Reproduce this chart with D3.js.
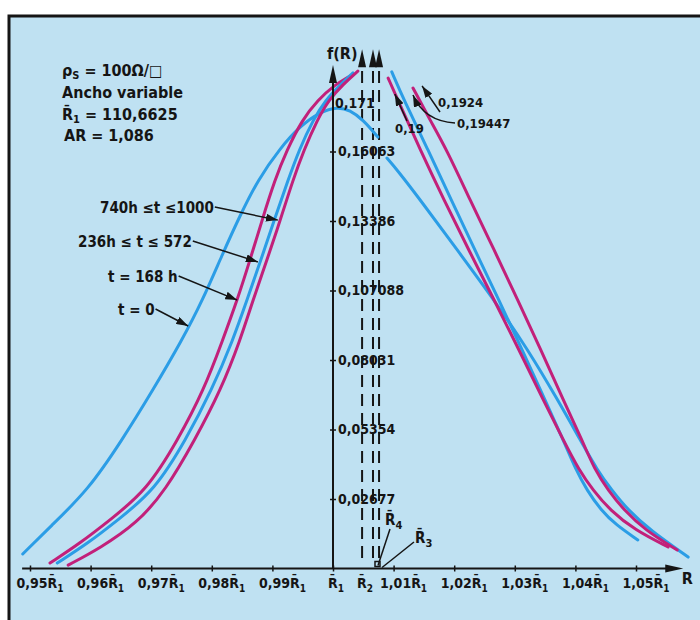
<!DOCTYPE html>
<html>
<head>
<meta charset="utf-8">
<script src="https://cdn.jsdelivr.net/npm/d3@7"></script>
<style>
body { margin: 0; background: #fff; }
svg text {
    font-family: "DejaVu Sans Condensed", "DejaVu Sans", sans-serif;
    font-stretch: condensed;
    font-weight: bold;
    fill: #151515;
}
</style>
</head>
<body>
<div id="container"><svg></svg></div>
<script>
let width = 700;
let height = 620;

let bg = '#bfe1f2';
let blue = '#2b9de6';
let magenta = '#c2207a';
let ink = '#151515';

// x ticks, in units of R1
let xTicks = [0.95, 0.96, 0.97, 0.98, 0.99, 1.00, 1.01, 1.02, 1.03, 1.04, 1.05];
let xTickCoef = ['0,95', '0,96', '0,97', '0,98', '0,99', '', '1,01', '1,02', '1,03', '1,04', '1,05'];

// y ticks f(R)
let yTicks = [0.02677, 0.05354, 0.08031, 0.107088, 0.13386, 0.16063];
let yTickLabels = ['0,02677', '0,05354', '0,08031', '0,107088', '0,13386', '0,16063'];

// mean radii (dashed lines)
let rBarNames = ['2', '4', '3'];
let rBarValues = [1.0048, 1.0066, 1.0076];

let seriesNames = ['t = 0', 't = 168 h', '236h \u2264 t \u2264 572', '740h \u2264t \u22641000'];
let seriesColors = [blue, magenta, blue, magenta];

// curves [R/R1, f(R)], left and right branch
let t0Left = [[0.9488, 0.0056], [0.9533, 0.0160], [0.9596, 0.0302], [0.9652, 0.0495], [0.9701, 0.0680],
    [0.9751, 0.0880], [0.9785, 0.1034], [0.9817, 0.1208], [0.9847, 0.1362], [0.9876, 0.1497],
    [0.9913, 0.1620], [0.9946, 0.1705], [0.9979, 0.1759], [1.0007, 0.1778], [1.0028, 0.1766],
    [1.0050, 0.1728], [1.0074, 0.1662]];
let t0Right = [[1.0089, 0.1581], [1.0106, 0.1535], [1.0144, 0.1420], [1.0205, 0.1227], [1.0266, 0.1034],
    [1.0322, 0.0842], [1.0371, 0.0649], [1.0408, 0.0495], [1.0436, 0.0379], [1.0460, 0.0302],
    [1.0487, 0.0225], [1.0523, 0.0148], [1.0586, 0.0044]];

let t168Left = [[0.9533, 0.0021], [0.9583, 0.0098], [0.9632, 0.0187], [0.9693, 0.0302], [0.9744, 0.0495],
    [0.9787, 0.0688], [0.9818, 0.0880], [0.9842, 0.1034], [0.9863, 0.1188], [0.9883, 0.1342],
    [0.9904, 0.1497], [0.9924, 0.1612], [0.9949, 0.1728], [0.9975, 0.1805], [1.0003, 0.1863],
    [1.0028, 0.1897]];
let t168Right = [[1.0132, 0.1851], [1.0160, 0.1728], [1.0188, 0.1612], [1.0226, 0.1420], [1.0266, 0.1227],
    [1.0305, 0.1034], [1.0343, 0.0842], [1.0380, 0.0649], [1.0411, 0.0495], [1.0432, 0.0379],
    [1.0454, 0.0302], [1.0480, 0.0225], [1.0515, 0.0148], [1.0568, 0.0071]];

let t236Left = [[0.9545, 0.0021], [0.9596, 0.0098], [0.9645, 0.0187], [0.9706, 0.0302], [0.9757, 0.0495],
    [0.9800, 0.0688], [0.9835, 0.0880], [0.9858, 0.1034], [0.9881, 0.1188], [0.9903, 0.1342],
    [0.9926, 0.1497], [0.9944, 0.1612], [0.9967, 0.1728], [0.9988, 0.1805], [1.0012, 0.1863],
    [1.0033, 0.1909]];
let t236Right = [[1.0097, 0.1913], [1.0117, 0.1805], [1.0157, 0.1612], [1.0195, 0.1420], [1.0234, 0.1227],
    [1.0274, 0.1034], [1.0312, 0.0842], [1.0350, 0.0649], [1.0380, 0.0495], [1.0401, 0.0379],
    [1.0419, 0.0302], [1.0442, 0.0225], [1.0467, 0.0168], [1.0503, 0.0110]];

let t740Left = [[0.9563, 0.0013], [0.9616, 0.0079], [0.9677, 0.0175], [0.9724, 0.0302], [0.9772, 0.0495],
    [0.9815, 0.0688], [0.9847, 0.0880], [0.9868, 0.1034], [0.9891, 0.1188], [0.9913, 0.1342],
    [0.9934, 0.1497], [0.9952, 0.1612], [0.9974, 0.1728], [0.9993, 0.1805], [1.0017, 0.1866],
    [1.0041, 0.1916]];
let t740Right = [[1.0091, 0.1889], [1.0107, 0.1805], [1.0144, 0.1612], [1.0183, 0.1420], [1.0224, 0.1227],
    [1.0266, 0.1034], [1.0307, 0.0842], [1.0347, 0.0649], [1.0380, 0.0495], [1.0406, 0.0379],
    [1.0429, 0.0302], [1.0457, 0.0225], [1.0498, 0.0148], [1.0553, 0.0083]];

let leftBranches = [t0Left, t168Left, t236Left, t740Left];
let rightBranches = [t0Right, t168Right, t236Right, t740Right];

// where each legend arrow touches its curve
let legendTips = [[0.9761, 0.0934], [0.9842, 0.1034], [0.9876, 0.1181], [0.9909, 0.1342]];

// peak values, with arrow tips
let peakLabels = ['0,19', '0,1924', '0,19447'];
let peakTips = [[1.0102, 0.1828], [1.0147, 0.1859], [1.0132, 0.1824]];

let x = d3.scaleLinear().domain([0.95, 1.05]).range([30, 636]);
let y = d3.scaleLinear().domain([0, 0.2]).range([568.5, 49.3]);

let svg = d3.select('#container').select('svg')
    .attr('width', width)
    .attr('height', height);

// arrow marker for the leaders
svg.append('defs').append('marker')
    .attr('id', 'arr')
    .attr('viewBox', '0 0 12 8')
    .attr('refX', 12).attr('refY', 4)
    .attr('markerWidth', 12).attr('markerHeight', 8)
    .attr('markerUnits', 'userSpaceOnUse')
    .attr('orient', 'auto')
    .append('path')
    .attr('d', 'M0,0 L12,4 L0,8 z')
    .attr('fill', ink);

// frame
svg.append('rect')
    .attr('x', 9).attr('y', 16)
    .attr('width', 720).attr('height', 640)
    .attr('fill', bg)
    .attr('stroke', ink)
    .attr('stroke-width', 3);

// dashed mean radii with arrows
rBarValues.forEach(function (r) {
    svg.append('line')
        .attr('x1', x(r)).attr('x2', x(r))
        .attr('y1', y(0.004)).attr('y2', y(0.2) + 14)
        .attr('stroke', ink)
        .attr('stroke-width', 2)
        .attr('stroke-dasharray', '12,7');
    svg.append('path')
        .attr('d', `M${x(r)},${y(0.2)} L${x(r) + 4},${y(0.2) + 18} L${x(r) - 4},${y(0.2) + 18} Z`)
        .attr('fill', ink);
});

// curves
let line = d3.line()
    .x(d => x(d[0]))
    .y(d => y(d[1]))
    .curve(d3.curveBasis);

[leftBranches, rightBranches].forEach(function (branches) {
    svg.append('g')
        .selectAll('path')
        .data(branches)
        .enter().append('path')
        .attr('d', d => line(d))
        .attr('fill', 'none')
        .attr('stroke', (d, i) => seriesColors[i])
        .attr('stroke-width', 3)
        .attr('stroke-linecap', 'round');
});

// x axis
let x0 = 0.9487, x1 = 1.0578;
svg.append('line')
    .attr('x1', x(x0)).attr('x2', x(x1) - 14)
    .attr('y1', y(0)).attr('y2', y(0))
    .attr('stroke', ink).attr('stroke-width', 2);
svg.append('path')
    .attr('d', `M${x(x1)},${y(0)} L${x(x1) - 18},${y(0) - 4} L${x(x1) - 18},${y(0) + 4} Z`)
    .attr('fill', ink);

let axis_x = d3.axisBottom(x).tickValues(xTicks).tickSize(4).tickFormat('');
let gx = svg.append('g')
    .attr('transform', `translate(0, ${y(0)})`)
    .call(axis_x);
gx.select('.domain').remove();
gx.selectAll('.tick line').attr('y1', -3).attr('y2', 3).attr('stroke', ink).attr('stroke-width', 1.5);

function rbar(sel, idx, fs) {
    sel.append('tspan').text('R\u0304');
    sel.append('tspan').attr('dy', 4).attr('font-size', fs).text(idx);
}

xTicks.forEach(function (t, i) {
    let txt = svg.append('text')
        .attr('x', x(t) + (xTickCoef[i] ? 10 : 3))
        .attr('y', y(0) + 19)
        .attr('text-anchor', 'middle')
        .attr('font-size', 14);
    txt.append('tspan').text(xTickCoef[i]);
    rbar(txt, '1', 10);
});
let r2txt = svg.append('text')
    .attr('x', x(rBarValues[0]) + 3)
    .attr('y', y(0) + 19)
    .attr('text-anchor', 'middle')
    .attr('font-size', 14);
rbar(r2txt, rBarNames[0], 10);

svg.append('text')
    .attr('x', x(x1) + 4)
    .attr('y', y(0) + 15)
    .attr('text-anchor', 'middle')
    .attr('font-size', 16)
    .text('R');

// y axis
let yTop = 0.194;
svg.append('line')
    .attr('x1', x(1)).attr('x2', x(1))
    .attr('y1', y(0)).attr('y2', y(yTop) + 14)
    .attr('stroke', ink).attr('stroke-width', 2);
svg.append('path')
    .attr('d', `M${x(1)},${y(yTop)} L${x(1) + 4},${y(yTop) + 18} L${x(1) - 4},${y(yTop) + 18} Z`)
    .attr('fill', ink);

let axis_y = d3.axisRight(y)
    .tickValues(yTicks)
    .tickSize(3)
    .tickFormat((d, i) => yTickLabels[i]);
let gy = svg.append('g')
    .attr('transform', `translate(${x(1)}, 0)`)
    .call(axis_y);
gy.select('.domain').remove();
gy.selectAll('.tick line').attr('x1', -3).attr('x2', 3).attr('stroke', ink).attr('stroke-width', 1.5);
gy.selectAll('.tick text')
    .attr('x', 5)
    .attr('font-size', 14)
    .attr('font-family', null)
    .attr('fill', ink);

svg.append('text')
    .attr('x', x(1) + 2)
    .attr('y', 108)
    .attr('font-size', 14)
    .text('0,171');

svg.append('text')
    .attr('x', x(1) - 6)
    .attr('y', 59)
    .attr('font-size', 16)
    .text('f(R)');

// parameter block
let info = svg.append('g').attr('font-size', 16);
let l1 = info.append('text').attr('x', 62).attr('y', 76);
l1.append('tspan').text('\u03c1');
l1.append('tspan').attr('dy', 3).attr('font-size', 11).text('S');
l1.append('tspan').attr('dy', -3).text(' = 100\u03a9/\u25a1');
info.append('text').attr('x', 62).attr('y', 98).text('Ancho   variable');
let l3 = info.append('text').attr('x', 62).attr('y', 120);
l3.append('tspan').text('R\u0304');
l3.append('tspan').attr('dy', 3).attr('font-size', 11).text('1');
l3.append('tspan').attr('dy', -3).text(' = 110,6625');
info.append('text').attr('x', 64).attr('y', 141).text('AR = 1,086');

// legend labels with leaders
let legendPos = [[118, 315], [108, 282], [78, 247], [100, 213]];
seriesNames.forEach(function (name, i) {
    let t = svg.append('text')
        .attr('x', legendPos[i][0])
        .attr('y', legendPos[i][1])
        .attr('font-size', 15)
        .text(name);
    let w = t.node().getComputedTextLength();
    svg.append('line')
        .attr('x1', legendPos[i][0] + w + 1)
        .attr('y1', legendPos[i][1] - 6)
        .attr('x2', x(legendTips[i][0]))
        .attr('y2', y(legendTips[i][1]))
        .attr('stroke', ink).attr('stroke-width', 1.5)
        .attr('marker-end', 'url(#arr)');
});

// peak values on the right
let peakPos = [[395, 133], [438, 107], [457, 128]];
peakLabels.forEach(function (lab, i) {
    svg.append('text')
        .attr('x', peakPos[i][0])
        .attr('y', peakPos[i][1])
        .attr('font-size', 13)
        .text(lab);
});
svg.append('line')
    .attr('x1', 407).attr('y1', 121)
    .attr('x2', x(peakTips[0][0])).attr('y2', y(peakTips[0][1]))
    .attr('stroke', ink).attr('stroke-width', 1.5)
    .attr('marker-end', 'url(#arr)');
svg.append('line')
    .attr('x1', 440).attr('y1', 112)
    .attr('x2', x(peakTips[1][0])).attr('y2', y(peakTips[1][1]))
    .attr('stroke', ink).attr('stroke-width', 1.5)
    .attr('marker-end', 'url(#arr)');
svg.append('path')
    .attr('d', `M455,123 Q424,121 ${x(peakTips[2][0])},${y(peakTips[2][1])}`)
    .attr('fill', 'none')
    .attr('stroke', ink).attr('stroke-width', 1.5)
    .attr('marker-end', 'url(#arr)');

// R4, R3 labels
let r4 = svg.append('text').attr('x', 385).attr('y', 525).attr('font-size', 15);
rbar(r4, rBarNames[1], 11);
let r3 = svg.append('text').attr('x', 415).attr('y', 543).attr('font-size', 15);
rbar(r3, rBarNames[2], 11);
svg.append('line')
    .attr('x1', 390).attr('y1', 529)
    .attr('x2', x(rBarValues[1]) + 5).attr('y2', y(0) - 3)
    .attr('stroke', ink).attr('stroke-width', 1.5);
svg.append('line')
    .attr('x1', 414).attr('y1', 542)
    .attr('x2', x(rBarValues[2]) + 3).attr('y2', y(0) - 1)
    .attr('stroke', ink).attr('stroke-width', 1.5);
svg.append('rect')
    .attr('x', x(rBarValues[1]) + 2).attr('y', y(0) - 7)
    .attr('width', 5).attr('height', 5)
    .attr('fill', 'none')
    .attr('stroke', ink).attr('stroke-width', 1.5);
</script>
</body>
</html>
